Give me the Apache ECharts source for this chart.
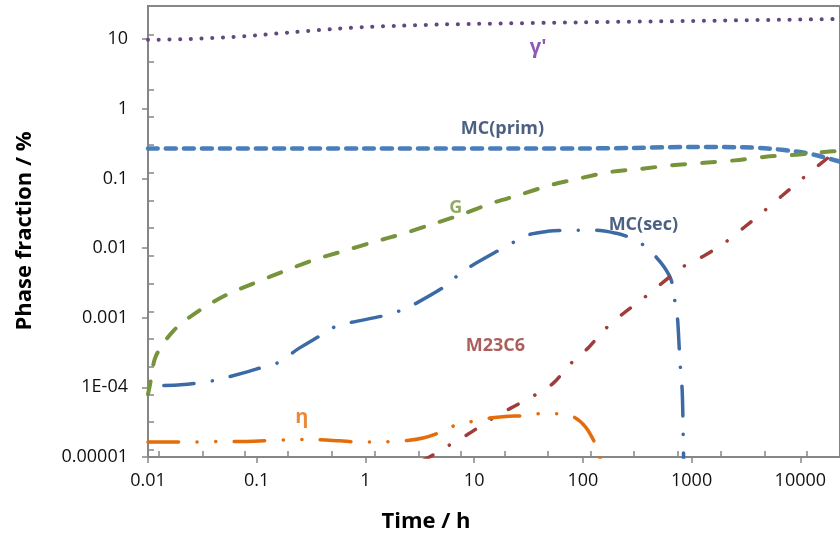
<!DOCTYPE html>
<html>
<head>
<meta charset="utf-8">
<script src="https://cdn.jsdelivr.net/npm/echarts@6/dist/echarts.min.js"></script>
<style>
html,body{margin:0;padding:0;background:#fff;}
#chart{width:840px;height:539px;}
</style>
</head>
<body>
<div id="chart"></div>
<script>
// ---- data (time in h, phase fraction in %) ----
const gammaTime = [0.01, 0.02, 0.05, 0.1, 0.2, 0.5, 1, 2, 5, 10, 100, 1000, 10000, 23000];
const gammaFrac = [9.8, 10.0, 10.6, 11.4, 12.5, 14.0, 15.0, 15.6, 16.3, 16.6, 17.5, 18.3, 19.2, 19.5];

const mcPrimTime = [0.01, 1, 100, 300, 1000, 3000, 5000, 10000, 15000, 23000];
const mcPrimFrac = [0.27, 0.27, 0.27, 0.275, 0.284, 0.28, 0.27, 0.24, 0.21, 0.175];

const gTime = [0.01, 0.0104, 0.0118, 0.0173, 0.0298, 0.0538, 0.099, 0.178, 0.328, 0.617, 1.16, 2.18, 4.09, 7.5, 14.4, 26, 50, 98, 184, 346, 664, 1300, 2500, 4790, 9190, 17600, 23000];
const gFrac = [8e-5, 1.07e-4, 2.8e-4, 6.6e-4, 1.28e-3, 2.17e-3, 3.23e-3, 4.65e-3, 6.7e-3, 9.0e-3, 0.0121, 0.016, 0.022, 0.030, 0.044, 0.058, 0.080, 0.102, 0.125, 0.138, 0.155, 0.168, 0.182, 0.205, 0.219, 0.242, 0.25];

const mcSecTime = [0.014, 0.02, 0.0286, 0.041, 0.0785, 0.112, 0.16, 0.244, 0.388, 0.532, 0.745, 1.52, 2.13, 2.92, 5.38, 7.07, 9.3, 17.5, 23.9, 32.8, 46.9, 67, 94, 134, 204, 268, 353, 455, 561, 650, 692, 738, 769, 785, 819, 836, 850];
const mcSecFrac = [1.06e-4, 1.09e-4, 1.15e-4, 1.26e-4, 1.64e-4, 1.94e-4, 2.29e-4, 3.63e-4, 5.58e-4, 7.5e-4, 8.6e-4, 1.08e-3, 1.28e-3, 1.61e-3, 2.82e-3, 4.06e-3, 5.48e-3, 9.6e-3, 0.0125, 0.0158, 0.0174, 0.018, 0.018, 0.018, 0.0163, 0.0143, 0.0113, 7.9e-3, 5.3e-3, 3.45e-3, 1.96e-3, 1.08e-3, 3.76e-4, 2.14e-4, 9.06e-5, 2.25e-5, 5e-6];

const m23Time = [3.39, 3.84, 5.73, 8.9, 13.3, 21.5, 34.9, 53.2, 76, 113, 159, 237, 360, 538, 819, 1270, 1980, 3010, 4490, 6700, 10000, 14900, 23000];
const m23Frac = [8.9e-6, 9.9e-6, 1.44e-5, 2.15e-5, 3.25e-5, 4.99e-5, 7.5e-5, 1.14e-4, 2.14e-4, 3.75e-4, 6.8e-4, 1.16e-3, 1.9e-3, 3.17e-3, 5.3e-3, 7.6e-3, 0.0117, 0.0196, 0.0327, 0.0555, 0.094, 0.157, 0.27];

const etaTime = [0.01, 0.0232, 0.0465, 0.0948, 0.198, 0.308, 0.58, 0.845, 1.21, 2.42, 3.46, 4.94, 6.92, 9.7, 13.9, 19.4, 28.9, 40.4, 57.9, 82.8, 106, 129, 143, 150];
const etaFrac = [1.64e-5, 1.64e-5, 1.67e-5, 1.69e-5, 1.77e-5, 1.79e-5, 1.71e-5, 1.64e-5, 1.64e-5, 1.73e-5, 1.89e-5, 2.28e-5, 2.91e-5, 3.25e-5, 3.62e-5, 3.83e-5, 3.92e-5, 4.19e-5, 4.17e-5, 3.74e-5, 2.69e-5, 1.58e-5, 1e-5, 7e-6];

// in-plot labels
const labelText = ["γ'", 'MC(prim)', 'G', 'MC(sec)', 'M23C6', 'η'];
const labelTime = [38.8, 18.2, 6.78, 360, 15.7, 0.26];
const labelFrac = [7.67, 0.509, 0.0373, 0.0213, 4.0e-4, 3.7e-5];

// axes
const xTickValues = [0.01, 0.1, 1, 10, 100, 1000, 10000];
const xTickLabels = ['0.01', '0.1', '1', '10', '100', '1000', '10000'];
const yTickValues = [0.00001, 0.0001, 0.001, 0.01, 0.1, 1, 10];
const yTickLabels = ['0.00001', '1E-04', '0.001', '0.01', '0.1', '1', '10'];
const xMinorLog = [-1.90, -1.50, -1.11, -0.71, -0.31, 0.09, 0.49, 0.88, 1.28, 1.68, 2.07, 2.47, 2.87, 3.27, 3.67, 4.06];
const yMinorLog = [-4.89, -4.50, -4.10, -3.70, -3.30, -2.91, -2.51, -2.11, -1.71, -1.32, -0.92, -0.52, -0.12, 0.28, 0.68, 1.07];
const xMin = 0.01, xMax = 23170, yMin = 0.00001, yMax = 30;

const FONT = "'Open Sans', sans-serif";
const AX = '#868686';

function zip(a, b) { return a.map((v, i) => [v, b[i]]); }
function fmt(values, labels) {
  return function (v) {
    let best = 0, bd = Infinity;
    values.forEach((t, i) => { const d = Math.abs(Math.log10(v) - Math.log10(t)); if (d < bd) { bd = d; best = i; } });
    return bd < 0.01 ? labels[best] : '';
  };
}

const chart = echarts.init(document.getElementById('chart'), null, { renderer: 'canvas' });

function lineSeries(name, data, color, width, dash) {
  return {
    name, type: 'line', data, xAxisIndex: 0, yAxisIndex: 0,
    showSymbol: false, symbol: 'none', smooth: 0.3, clip: true,
    lineStyle: { color, width, type: dash, cap: 'round', join: 'round' },
    z: 3
  };
}

const labelColors = ['#7030A0', '#1F3A63', '#77933C', '#1F3A63', '#953735', '#E46C0A'];
const labelSizes = [20, 18, 18, 18, 18, 20];

const option = {
  animation: false,
  backgroundColor: '#fff',
  grid: { left: 148, top: 6, right: -5, bottom: 82, show: true, borderColor: AX, borderWidth: 2, containLabel: false },
  xAxis: [
    {
      type: 'log', min: xMin, max: xMax, position: 'bottom',
      axisLine: { show: true, lineStyle: { color: AX, width: 2 } },
      axisTick: { show: true, inside: false, length: 6, lineStyle: { color: AX, width: 1.5 }, customValues: xTickValues },
      axisLabel: { show: true, customValues: xTickValues, formatter: fmt(xTickValues, xTickLabels), color: '#111', fontFamily: FONT, fontSize: 18, margin: 15 },
      splitLine: { show: false }, minorTick: { show: false }
    },
    {
      type: 'log', min: xMin, max: xMax, position: 'bottom',
      axisLine: { show: false },
      axisTick: { show: true, inside: true, length: 6, lineStyle: { color: AX, width: 1.5 }, customValues: xMinorLog.map(v => Math.pow(10, v)) },
      axisLabel: { show: false }, splitLine: { show: false }
    }
  ],
  yAxis: [
    {
      type: 'log', min: yMin, max: yMax, position: 'left',
      axisLine: { show: true, lineStyle: { color: AX, width: 2 } },
      axisTick: { show: true, inside: false, length: 6, lineStyle: { color: AX, width: 1.5 }, customValues: yTickValues },
      axisLabel: { show: true, customValues: yTickValues, formatter: fmt(yTickValues, yTickLabels), color: '#111', fontFamily: FONT, fontSize: 18, margin: 20 },
      splitLine: { show: false }, minorTick: { show: false }
    },
    {
      type: 'log', min: yMin, max: yMax, position: 'left',
      axisLine: { show: false },
      axisTick: { show: true, inside: true, length: 6, lineStyle: { color: AX, width: 1.5 }, customValues: yMinorLog.map(v => Math.pow(10, v)) },
      axisLabel: { show: false }, splitLine: { show: false }
    }
  ],
  series: [
    lineSeries("γ'", zip(gammaTime, gammaFrac), '#604A7B', 4, [0.1, 10.6]),
    lineSeries('MC(prim)', zip(mcPrimTime, mcPrimFrac), '#4A7EBB', 4.5, [10, 8]),
    lineSeries('G', zip(gTime, gFrac), '#77933C', 4, [13, 17]),
    lineSeries('MC(sec)', zip(mcSecTime, mcSecFrac), '#3C6AA5', 3.5, [30, 18.5, 0.1, 18.5]),
    lineSeries('M23C6', zip(m23Time, m23Frac), '#A03C3A', 3.5, [11.5, 19, 0.1, 19]),
    lineSeries('η', zip(etaTime, etaFrac), '#E46C0A', 3.5, [30.5, 18.5, 0.1, 18.5, 0.1, 18.5]),
    {
      name: 'labels', type: 'scatter', xAxisIndex: 0, yAxisIndex: 0,
      symbolSize: 0, silent: true, z: 5,
      data: labelText.map((t, i) => ({
        name: t, value: [labelTime[i], labelFrac[i]],
        label: { show: true, position: 'inside', formatter: '{b}', color: labelColors[i], fontFamily: FONT, fontWeight: 'bold', fontSize: labelSizes[i] }
      }))
    }
  ],
  graphic: [
    { type: 'text', x: 426, y: 522, silent: true,
      style: { text: 'Time / h', fill: '#000', font: "bold 22px 'Open Sans', sans-serif", textAlign: 'center', textVerticalAlign: 'middle' } },
    { type: 'text', x: 25, y: 231, rotation: Math.PI / 2, silent: true,
      style: { text: 'Phase fraction / %', fill: '#000', font: "bold 22px 'Open Sans', sans-serif", textAlign: 'center', textVerticalAlign: 'middle' } }
  ]
};
chart.setOption(option);
</script>
</body>
</html>
